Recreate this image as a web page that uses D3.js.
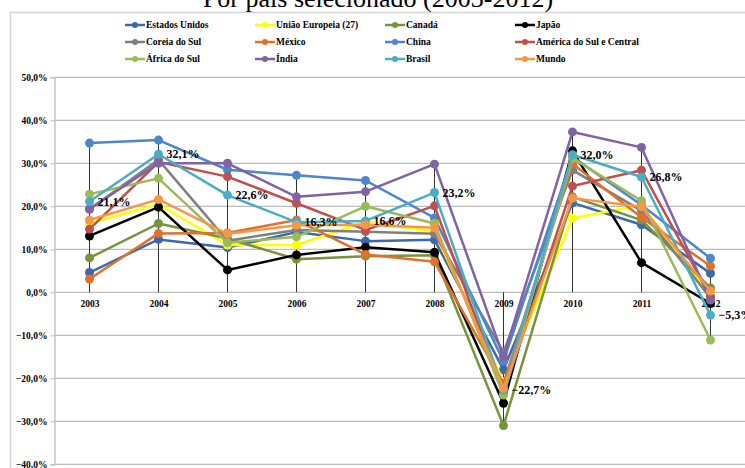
<!DOCTYPE html>
<html>
<head>
<meta charset="utf-8">
<script src="https://cdn.jsdelivr.net/npm/d3@7"></script>
<style>
  html, body { margin: 0; padding: 0; background: #fff; }
  svg { display: block; }
</style>
</head>
<body>
<svg id="chart" width="745" height="468" font-family="Liberation Serif"></svg>
<script>
// Export growth by country / region, 2003-2012 (%)
const years = ["2003","2004","2005","2006","2007","2008","2009","2010","2011","2012"];
const yTicks = [-40,-30,-20,-10,0,10,20,30,40,50];

const seriesNames = [
  "Estados Unidos","União Europeia (27)","Canadá","Japão",
  "Coreia do Sul","México","China","América do Sul e Central",
  "África do Sul","Índia","Brasil","Mundo"
];
const seriesColors = [
  "#3C69AE","#FFFF00","#77933C","#000000",
  "#7F7F7F","#E0712A","#4D85CF","#C0504D",
  "#9BBB59","#8064A2","#4BACC6","#F79646"
];

const estadosUnidos = [4.6, 12.3, 10.4, 14.0, 11.9, 12.2, -18.0, 20.8, 15.7, 4.4];
const uniaoEuropeia = [16.0, 20.5, 11.0, 11.0, 16.4, 14.1, -20.8, 17.2, 20.3, -0.8];
const canada        = [8.0, 16.0, 12.5, 7.7, 8.4, 8.6, -31.0, 22.2, 16.8, 1.0];
const japao         = [13.1, 19.8, 5.2, 8.7, 10.5, 9.3, -25.8, 32.9, 6.9, -2.6];
const coreiaDoSul   = [19.3, 30.8, 12.0, 14.5, 14.1, 13.6, -13.9, 28.4, 19.0, -1.3];
const mexico        = [3.1, 13.7, 13.8, 16.8, 8.8, 7.1, -21.2, 29.9, 17.4, 6.1];
const china         = [34.7, 35.4, 28.5, 27.2, 26.0, 17.3, -16.0, 31.5, 20.3, 7.9];
const americaDoSul  = [14.7, 30.3, 26.9, 20.7, 14.5, 20.1, -23.5, 24.7, 28.4, -1.0];
const africaDoSul   = [22.8, 26.5, 11.5, 12.9, 20.0, 16.0, -23.9, 31.2, 21.3, -11.1];
const india         = [19.4, 30.0, 30.0, 22.2, 23.4, 29.8, -15.0, 37.3, 33.7, -1.8];
const brasil        = [21.1, 32.1, 22.6, 16.3, 16.6, 23.2, -22.7, 32.0, 26.8, -5.3];
const mundo         = [16.8, 21.6, 13.6, 15.6, 15.7, 15.0, -22.3, 21.9, 19.9, 0.3];

const seriesValues = [
  estadosUnidos, uniaoEuropeia, canada, japao,
  coreiaDoSul, mexico, china, americaDoSul,
  africaDoSul, india, brasil, mundo
];
// Series whose values are written next to the points
const labelledSeries = "Brasil";

const series = seriesNames.map((name, i) => ({
  name, color: seriesColors[i],
  values: seriesValues[i].map((v, j) => ({ year: years[j], v }))
}));

const SERIF = "'Liberation Serif', 'Times New Roman', serif";
const svg = d3.select("#chart");
const fmt = v => d3.format(".1f")(v).replace(".", ",") + "%";

// Outer frame
svg.append("rect")
  .attr("x", 10.5).attr("y", 12.5)
  .attr("width", 800).attr("height", 600)
  .attr("fill", "none").attr("stroke", "#D4D4D4").attr("stroke-width", 1.5);

// Title
svg.append("text")
  .attr("x", 378).attr("y", 7)
  .attr("text-anchor", "middle")
  .style("font-family", SERIF)
  .style("font-size", "26px")
  .text("Por país selecionado (2003-2012)");

// Scales
const x = d3.scalePoint().domain(years).range([55, 745]).padding(0.5);
const y = d3.scaleLinear().domain([-40, 50]).range([464.3, 77.3]);

// Horizontal gridlines
svg.append("g").selectAll("line")
  .data(yTicks).join("line")
  .attr("x1", 55).attr("x2", 745)
  .attr("y1", d => y(d)).attr("y2", d => y(d))
  .attr("stroke", "#BDBDBD").attr("stroke-width", 1.3);

// Y axis
const yAxis = svg.append("g")
  .attr("transform", "translate(54.5,0)")
  .call(d3.axisLeft(y).tickValues(yTicks).tickSize(4).tickPadding(3).tickFormat(fmt));
yAxis.attr("font-family", null);
yAxis.select(".domain").attr("stroke", "#BDBDBD").attr("stroke-width", 1.3);
yAxis.selectAll(".tick line").attr("stroke", "#BDBDBD");
yAxis.selectAll("text")
  .style("font-family", SERIF)
  .style("font-size", "9.5px").style("font-weight", "bold").attr("fill", "#000");

// Drop lines from each year's points to the category axis
svg.append("g").selectAll("line")
  .data(years).join("line")
  .attr("x1", d => x(d)).attr("x2", d => x(d))
  .attr("y1", (d, j) => y(Math.max(0, d3.max(seriesValues, s => s[j]))))
  .attr("y2", (d, j) => y(Math.min(0, d3.min(seriesValues, s => s[j]))))
  .attr("stroke", "#333").attr("stroke-width", 1);

// Category labels under the zero line
const xAxis = svg.append("g")
  .attr("transform", `translate(0,${y(0)})`)
  .call(d3.axisBottom(x).tickSize(0).tickPadding(8));
xAxis.attr("font-family", null);
xAxis.select(".domain").remove();
xAxis.selectAll("text")
  .style("font-family", SERIF)
  .style("font-size", "9.5px").style("font-weight", "bold").attr("fill", "#000");

// Lines and markers
const line = d3.line().x(d => x(d.year)).y(d => y(d.v));
const sg = svg.append("g").selectAll("g").data(series).join("g");
sg.append("path")
  .attr("d", d => line(d.values))
  .attr("fill", "none").attr("stroke", d => d.color)
  .attr("stroke-width", 2.5).attr("stroke-linejoin", "round");
sg.selectAll("circle")
  .data(d => d.values.map(p => ({ ...p, color: d.color })))
  .join("circle")
  .attr("cx", d => x(d.year)).attr("cy", d => y(d.v))
  .attr("r", 4.5).attr("fill", d => d.color);

// Value labels
const lab = series.find(s => s.name === labelledSeries);
svg.append("g").selectAll("text")
  .data(lab.values).join("text")
  .attr("x", d => x(d.year) + 8)
  .attr("y", d => y(d.v))
  .attr("dy", "0.35em")
  .style("font-family", SERIF)
  .style("font-size", "12px").style("font-weight", "bold")
  .text(d => fmt(d.v));

// Legend
const legCols = [125, 255, 385, 515];
const legRows = [25, 42, 59];
const lg = svg.append("g").selectAll("g")
  .data(series).join("g")
  .attr("transform", (d, i) => `translate(${legCols[i % 4]},${legRows[Math.floor(i / 4)]})`);
lg.append("line")
  .attr("x1", 0).attr("x2", 20).attr("y1", 0).attr("y2", 0)
  .attr("stroke", d => d.color).attr("stroke-width", 2.5);
lg.append("circle").attr("cx", 10).attr("cy", 0).attr("r", 3).attr("fill", d => d.color);
lg.append("text")
  .attr("x", 21).attr("y", 0).attr("dy", "0.35em")
  .style("font-family", SERIF)
  .style("font-size", "9.5px").style("font-weight", "bold")
  .text(d => d.name);
</script>
</body>
</html>
